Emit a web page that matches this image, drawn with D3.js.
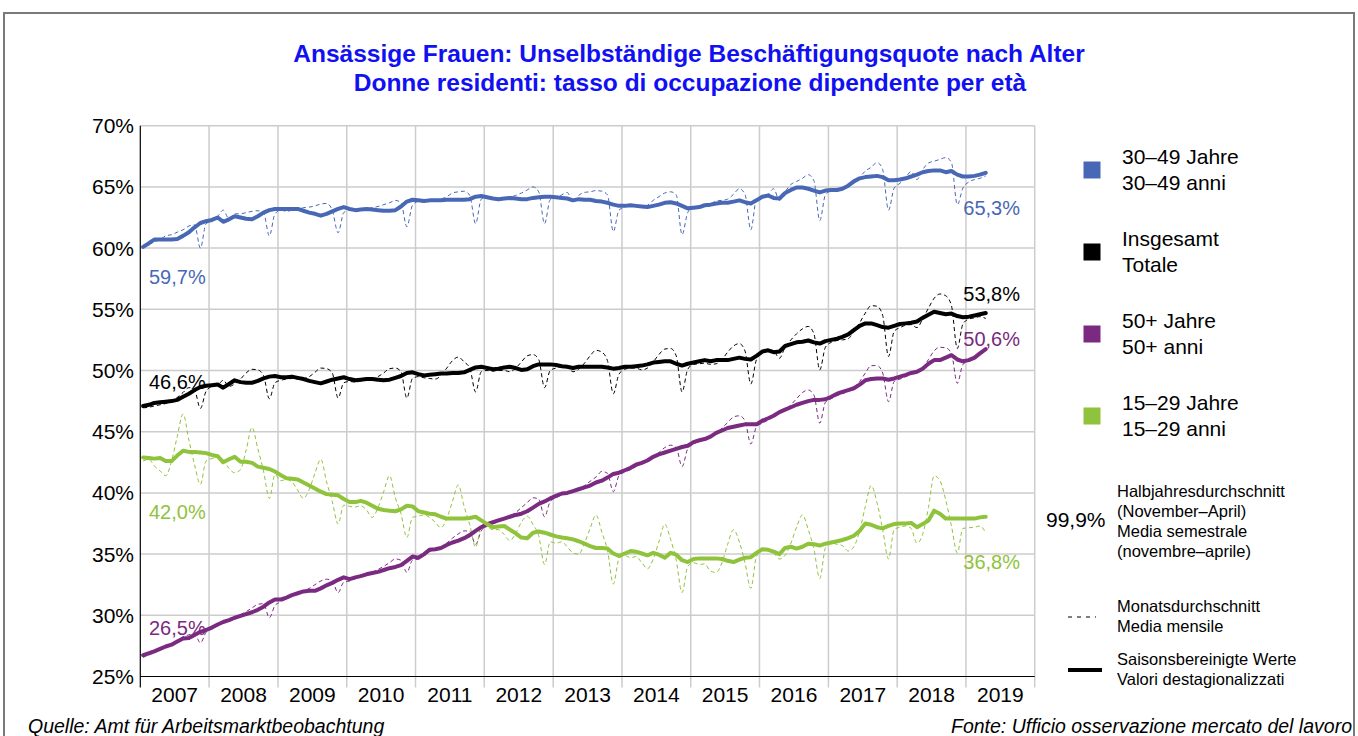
<!DOCTYPE html>
<html>
<head>
<meta charset="utf-8">
<script src="https://cdn.jsdelivr.net/npm/d3@7"></script>
<style>
  body { margin: 0; background: #fff; }
  svg { font-family: "Liberation Sans", Arial, sans-serif; }
  .titel { font-weight: bold; fill: #1010f2; font-size: 24.5px; }
  .achse text { font-size: 21px; fill: #000; }
  .leg { font-size: 21px; fill: #000; }
  .leg-klein { font-size: 16.5px; fill: #000; }
  .quelle { font-size: 19.5px; font-style: italic; fill: #000; }
</style>
</head>
<body>
<svg id="grafik"></svg>
<script>
// Monatswerte ab Januar 2007 (bis April 2019)
const startJahr = 2007;
const jahre = d3.range(2007, 2020);
const yTicks = [25, 30, 35, 40, 45, 50, 55, 60, 65, 70];

// 30-49 Jahre
const blauSaison = [
  60.1,60.4,60.7,60.7,60.7,60.7,60.75,61.0,61.3,61.7,62.05,62.2,
  62.3,62.5,62.15,62.35,62.6,62.5,62.4,62.35,62.6,62.9,63.1,63.2,
  63.2,63.2,63.2,63.2,63.05,62.9,62.8,62.65,62.8,63.0,63.2,63.35,
  63.2,63.1,63.15,63.2,63.15,63.1,63.05,63.05,63.1,63.4,63.8,63.95,
  63.9,63.85,63.9,63.9,63.9,63.95,63.95,63.95,63.95,64.0,64.2,64.25,
  64.15,64.05,64.0,64.05,64.1,64.05,64.0,64.0,64.1,64.15,64.2,64.2,
  64.15,64.1,64.05,63.9,64.0,63.95,63.95,63.85,63.8,63.7,63.55,63.45,
  63.45,63.5,63.45,63.4,63.35,63.45,63.55,63.7,63.75,63.65,63.45,63.25,
  63.3,63.35,63.5,63.55,63.65,63.7,63.7,63.8,63.9,63.75,63.65,63.9,
  64.2,64.3,64.1,64.05,64.5,64.75,64.95,64.95,64.85,64.7,64.55,64.7,
  64.75,64.75,64.85,65.1,65.45,65.7,65.8,65.85,65.9,65.8,65.55,65.55,
  65.6,65.7,65.85,66.0,66.2,66.3,66.35,66.35,66.2,66.3,66.0,65.85,
  65.85,65.9,66.0,66.15
];
const blauMonat = [
  60.0,60.3,60.5,60.7,61.0,61.1,61.3,61.5,61.8,61.9,60.0,62.0,
  62.2,62.6,63.1,62.4,62.8,62.8,62.9,63.0,63.05,62.9,61.0,62.8,
  63.1,63.0,63.1,63.2,63.3,63.35,63.45,63.6,63.65,63.1,61.25,62.9,
  63.1,63.0,63.1,63.2,63.3,63.4,63.55,63.7,63.9,63.7,61.75,63.5,
  63.8,63.75,63.8,63.9,64.0,64.2,64.5,64.6,64.65,64.3,62.0,64.0,
  64.2,64.0,63.95,64.0,64.15,64.3,64.5,64.75,65.0,64.6,62.0,63.95,
  64.1,64.35,64.55,63.75,64.3,64.55,64.6,64.7,64.65,64.35,61.35,63.1,
  63.35,63.45,63.4,63.35,63.5,63.9,64.2,64.5,64.6,64.35,61.1,62.9,
  63.4,63.35,63.45,63.6,63.85,63.9,64.0,64.4,64.85,64.4,61.5,64.0,
  64.2,64.4,64.85,63.9,64.6,65.2,65.45,65.7,66.0,65.5,62.25,64.35,
  64.7,64.85,64.9,65.0,65.3,65.8,66.3,66.6,67.0,66.4,63.1,64.9,
  65.3,65.8,66.25,65.6,66.4,66.95,67.1,67.25,67.4,67.0,63.55,64.9,
  65.4,65.6,65.7,65.9
];

// Insgesamt
const schwarzSaison = [
  47.1,47.2,47.35,47.4,47.45,47.5,47.6,47.85,48.1,48.4,48.65,48.75,
  48.8,48.85,48.6,48.9,49.2,49.05,49.0,49.0,49.15,49.35,49.5,49.55,
  49.45,49.45,49.5,49.4,49.3,49.15,49.05,48.95,49.1,49.25,49.35,49.45,
  49.3,49.2,49.25,49.3,49.3,49.25,49.2,49.25,49.4,49.55,49.8,49.85,
  49.7,49.6,49.65,49.7,49.75,49.75,49.8,49.8,49.85,50.05,50.25,50.3,
  50.2,50.1,50.15,50.25,50.3,50.2,50.05,50.1,50.35,50.5,50.5,50.5,
  50.45,50.35,50.3,50.2,50.3,50.3,50.3,50.3,50.3,50.25,50.15,50.2,
  50.3,50.3,50.35,50.4,50.5,50.65,50.7,50.75,50.75,50.55,50.4,50.55,
  50.65,50.75,50.85,50.75,50.85,50.85,50.85,50.95,51.05,50.95,50.9,51.2,
  51.55,51.65,51.5,51.55,52.0,52.15,52.3,52.35,52.45,52.3,52.2,52.4,
  52.5,52.6,52.75,52.95,53.3,53.65,53.85,53.85,53.7,53.55,53.5,53.65,
  53.8,53.85,53.9,54.0,54.3,54.55,54.8,54.7,54.6,54.65,54.45,54.35,
  54.4,54.5,54.6,54.7
];
const schwarzMonat = [
  46.95,47.0,47.1,47.2,47.3,47.5,47.8,48.2,48.6,48.4,46.9,48.3,
  48.7,48.8,49.2,48.7,48.9,49.3,49.8,50.1,50.05,49.6,47.7,49.0,
  49.2,49.3,49.35,49.3,49.35,49.5,49.85,50.2,50.15,49.8,47.75,49.0,
  49.1,49.05,49.15,49.2,49.3,49.5,49.8,50.15,50.2,49.9,47.75,49.35,
  49.5,49.4,49.35,49.3,49.6,50.2,50.8,51.1,50.7,50.2,48.25,49.9,
  50.0,49.95,50.0,50.0,49.9,50.2,50.7,51.2,51.3,50.9,48.6,50.0,
  50.2,50.3,50.25,49.9,50.1,50.6,51.2,51.65,51.5,50.8,48.1,49.7,
  50.1,50.2,50.2,50.05,50.2,50.7,51.3,51.75,51.8,51.2,48.25,50.1,
  50.5,50.55,50.6,50.5,50.55,50.9,51.5,52.0,52.2,51.6,48.9,50.9,
  51.5,51.7,51.6,51.0,51.9,52.5,53.0,53.4,53.6,53.0,50.05,51.9,
  52.3,52.45,52.5,52.6,53.2,53.9,54.7,55.3,55.25,54.5,51.15,53.2,
  53.5,53.7,53.75,53.5,54.2,55.1,55.9,56.25,56.1,55.3,51.8,53.8,
  54.2,54.3,54.4,54.25
];

// 50+ Jahre
const violettSaison = [
  26.75,26.9,27.05,27.25,27.45,27.6,27.85,28.1,28.15,28.4,28.65,28.8,
  29.0,29.25,29.45,29.6,29.8,29.95,30.1,30.25,30.45,30.7,31.05,31.3,
  31.3,31.45,31.65,31.8,31.95,32.0,32.0,32.2,32.45,32.65,32.9,33.1,
  32.95,33.1,33.2,33.35,33.45,33.55,33.7,33.85,33.95,34.1,34.45,34.8,
  34.7,35.0,35.35,35.4,35.5,35.75,35.95,36.1,36.3,36.55,36.9,37.2,
  37.45,37.6,37.75,37.9,38.05,38.2,38.3,38.5,38.8,39.1,39.3,39.55,
  39.75,39.95,40.0,40.15,40.3,40.45,40.6,40.85,41.0,41.25,41.55,41.65,
  41.85,42.05,42.3,42.45,42.65,42.95,43.15,43.3,43.45,43.6,43.75,43.85,
  44.15,44.3,44.4,44.6,44.9,45.1,45.3,45.4,45.5,45.6,45.6,45.6,
  45.9,46.1,46.3,46.6,46.8,47.0,47.2,47.35,47.5,47.6,47.6,47.65,
  47.85,48.1,48.25,48.4,48.55,48.85,49.2,49.3,49.35,49.35,49.25,49.35,
  49.5,49.65,49.8,49.9,50.15,50.55,50.85,50.85,51.05,51.25,50.9,50.75,
  50.85,51.05,51.4,51.75
];
const violettMonat = [
  26.55,26.8,27.0,27.2,27.4,27.65,27.9,28.25,28.4,28.5,27.75,28.6,
  28.9,29.15,29.4,29.55,29.8,30.05,30.3,30.6,30.9,30.95,29.8,30.8,
  31.1,31.35,31.55,31.75,31.95,32.2,32.5,32.8,32.95,32.8,31.85,32.7,
  32.8,33.0,33.15,33.3,33.5,33.75,34.0,34.3,34.6,34.5,33.5,34.5,
  34.6,34.9,35.2,35.35,35.55,35.9,36.3,36.65,36.9,36.85,35.8,36.9,
  37.3,37.5,37.65,37.85,38.1,38.4,38.8,39.2,39.6,39.5,38.05,39.3,
  39.6,39.85,39.95,40.1,40.3,40.6,40.95,41.3,41.75,41.6,40.1,41.4,
  41.7,41.9,42.15,42.4,42.65,42.95,43.3,43.7,43.9,43.7,42.15,43.6,
  44.0,44.2,44.35,44.6,44.9,45.3,45.75,46.2,46.3,45.9,44.0,45.4,
  45.7,45.95,46.2,46.5,46.8,47.2,47.7,48.2,48.4,48.0,45.7,47.4,
  47.7,47.95,48.1,48.3,48.6,49.1,49.8,50.4,50.4,49.8,47.45,49.1,
  49.3,49.5,49.7,49.8,50.2,50.9,51.6,51.9,51.85,51.4,48.95,50.5,
  50.75,51.0,51.3,51.55
];

// 15-29 Jahre
const gruenSaison = [
  42.9,42.85,42.8,42.85,42.6,42.6,43.05,43.45,43.35,43.35,43.3,43.25,
  43.1,43.0,42.5,42.75,42.95,42.55,42.55,42.45,42.15,42.05,41.95,41.75,
  41.45,41.2,41.15,41.1,40.85,40.6,40.35,40.1,39.9,39.85,39.8,39.5,
  39.25,39.25,39.35,39.2,38.95,38.7,38.6,38.55,38.5,38.65,38.95,38.9,
  38.5,38.4,38.3,38.25,38.05,37.9,37.9,37.9,37.9,37.95,38.05,37.75,
  37.45,37.2,37.25,37.3,37.0,36.7,36.35,36.3,36.75,36.85,36.75,36.6,
  36.45,36.35,36.3,36.2,36.05,35.85,35.65,35.5,35.5,35.45,35.05,34.85,
  35.05,35.25,35.2,35.05,34.9,35.1,34.95,34.7,35.1,34.95,34.5,34.35,
  34.6,34.65,34.65,34.65,34.65,34.6,34.45,34.35,34.55,34.7,34.75,35.1,
  35.4,35.35,35.2,35.0,35.5,35.6,35.45,35.6,35.85,35.8,35.7,35.85,
  35.95,36.05,36.15,36.3,36.5,36.9,37.5,37.4,37.2,37.1,37.3,37.45,
  37.5,37.5,37.55,37.2,37.45,37.75,38.55,38.3,37.9,37.9,37.9,37.9,
  37.9,37.9,38.0,38.05
];
const gruenMonat = [
  42.6,42.75,42.2,41.8,41.4,42.6,44.6,46.45,44.3,42.3,40.7,42.6,
  42.8,42.9,42.7,42.0,41.65,41.9,43.5,45.35,43.6,41.8,39.55,41.5,
  41.0,41.1,40.9,40.2,39.55,40.3,41.6,42.75,40.9,39.3,37.45,39.0,
  38.9,38.85,38.95,38.6,38.0,38.8,40.1,41.4,39.6,38.3,36.35,38.0,
  38.1,38.2,38.0,37.6,37.15,37.9,39.3,40.65,38.9,37.4,35.55,37.2,
  37.2,37.0,37.0,36.6,36.1,36.7,37.6,38.1,37.4,36.5,34.15,36.0,
  35.9,36.0,35.6,35.1,35.0,35.9,37.1,38.2,36.8,35.3,32.55,34.6,
  34.9,34.7,34.8,34.3,33.8,34.6,36.0,37.45,36.2,34.5,31.85,34.0,
  34.3,34.15,34.2,33.6,33.5,34.3,35.8,37.0,36.0,34.3,32.2,34.8,
  35.3,35.4,35.1,34.6,34.9,35.9,37.2,38.2,37.0,35.4,33.0,35.5,
  35.9,35.8,35.7,35.25,35.6,36.9,38.9,40.6,39.2,37.0,34.6,37.0,
  37.2,37.3,37.1,35.9,36.6,38.8,41.4,41.0,39.4,37.3,35.1,37.1,
  37.15,37.2,37.3,36.75
];

const serien = [
  { name: ['30\u201349 Jahre', '30\u201349 anni'], farbe: '#4868b6', saison: blauSaison, monat: blauMonat, anfang: '59,7%', ende: '65,3%' },
  { name: ['Insgesamt', 'Totale'], farbe: '#000000', saison: schwarzSaison, monat: schwarzMonat, anfang: '46,6%', ende: '53,8%' },
  { name: ['50+ Jahre', '50+ anni'], farbe: '#7a2a80', saison: violettSaison, monat: violettMonat, anfang: '26,5%', ende: '50,6%' },
  { name: ['15\u201329 Jahre', '15\u201329 anni'], farbe: '#90c33c', saison: gruenSaison, monat: gruenMonat, anfang: '42,0%', ende: '36,8%' }
];

const breite = 1358, hoehe = 736;
const svg = d3.select('#grafik').attr('width', breite).attr('height', hoehe);

// Rahmen
svg.append('rect')
    .attr('x', 4).attr('y', 13)
    .attr('width', 1350).attr('height', 760)
    .attr('fill', 'none').attr('stroke', '#7a7a7a').attr('stroke-width', 2);

// Titel
svg.append('text').attr('class', 'titel').attr('x', 689).attr('y', 62)
    .attr('text-anchor', 'middle').text('Ansässige Frauen: Unselbständige Beschäftigungsquote nach Alter');
svg.append('text').attr('class', 'titel').attr('x', 690).attr('y', 91)
    .attr('text-anchor', 'middle').text('Donne residenti: tasso di occupazione dipendente per età');

const links = 140.3, rechts = 1034.7, oben = 125.7, unten = 676.5;

const x = d3.scaleTime()
    .domain([new Date(startJahr, 0, 1), new Date(2020, 0, 1)])
    .range([links, rechts]);
const y = d3.scaleLinear().domain([25, 70]).range([unten, oben]);

const monatsX = i => x(new Date(startJahr, i, 16));

// Gitter
const gitter = svg.append('g');
gitter.selectAll('.hl').data(yTicks.slice(1)).enter().append('line')
    .attr('x1', links).attr('x2', rechts)
    .attr('y1', d => y(d)).attr('y2', d => y(d))
    .attr('stroke', '#cccccc').attr('stroke-width', 1.5);
gitter.selectAll('.vl').data(jahre.slice(1).concat([2020])).enter().append('line')
    .attr('x1', d => x(new Date(d, 0, 1))).attr('x2', d => x(new Date(d, 0, 1)))
    .attr('y1', oben).attr('y2', unten + 11)
    .attr('stroke', '#cccccc').attr('stroke-width', 1.5);

// Achsen
svg.append('line').attr('x1', links).attr('x2', links).attr('y1', oben).attr('y2', unten + 11)
    .attr('stroke', '#000').attr('stroke-width', 1.2);
svg.append('line').attr('x1', links).attr('x2', rechts).attr('y1', unten).attr('y2', unten)
    .attr('stroke', '#000').attr('stroke-width', 1.2);

const yAchse = svg.append('g').attr('class', 'achse');
yAchse.selectAll('text').data(yTicks).enter().append('text')
    .attr('x', 134).attr('y', d => y(d) + 7.5)
    .attr('text-anchor', 'end').text(d => d + '%');

const xAchse = svg.append('g').attr('class', 'achse');
xAchse.selectAll('text').data(jahre).enter().append('text')
    .attr('x', d => (x(new Date(d, 0, 1)) + x(new Date(d + 1, 0, 1))) / 2)
    .attr('y', 702)
    .attr('text-anchor', 'middle').text(d => d);

// Linien
const linieMonat = d3.line().x((d, i) => monatsX(i)).y(d => y(d)).curve(d3.curveMonotoneX);
const linieSaison = d3.line().x((d, i) => monatsX(i)).y(d => y(d));

const plot = svg.append('g');
serien.forEach(s => {
  plot.append('path').datum(s.monat)
      .attr('d', linieMonat)
      .attr('fill', 'none').attr('stroke', s.farbe).attr('stroke-width', 1)
      .attr('stroke-dasharray', '4,3');
});
serien.forEach(s => {
  plot.append('path').datum(s.saison)
      .attr('d', linieSaison)
      .attr('fill', 'none').attr('stroke', s.farbe).attr('stroke-width', 4)
      .attr('stroke-linejoin', 'round').attr('stroke-linecap', 'round');
});

// Halbjahreswerte am Anfang und Ende
const anfangY = [284, 389, 635, 518.5];
const endeY = [215, 300.5, 345.5, 569];
serien.forEach((s, k) => {
  svg.append('text').attr('x', 149).attr('y', anfangY[k])
      .attr('font-size', 20).attr('fill', s.farbe).text(s.anfang);
  svg.append('text').attr('x', 1020).attr('y', endeY[k])
      .attr('font-size', 20).attr('fill', s.farbe).attr('text-anchor', 'end').text(s.ende);
});

// Legende
const legY = [170, 252, 334, 416];
serien.forEach((s, k) => {
  svg.append('rect').attr('x', 1083.5).attr('y', legY[k] - 8.5)
      .attr('width', 17).attr('height', 17).attr('fill', s.farbe);
  svg.append('text').attr('class', 'leg').attr('x', 1122).attr('y', legY[k] - 6).text(s.name[0]);
  svg.append('text').attr('class', 'leg').attr('x', 1122).attr('y', legY[k] + 20).text(s.name[1]);
});

svg.append('text').attr('class', 'leg').attr('x', 1046).attr('y', 527).text('99,9%');
['Halbjahresdurchschnitt', '(November\u2013April)', 'Media semestrale', '(novembre\u2013aprile)'].forEach((t, k) => {
  svg.append('text').attr('class', 'leg-klein').attr('x', 1117).attr('y', 497 + k * 20).text(t);
});
svg.append('line').attr('x1', 1068).attr('x2', 1096).attr('y1', 617).attr('y2', 617)
    .attr('stroke', '#000').attr('stroke-width', 1).attr('stroke-dasharray', '4,5');
svg.append('text').attr('class', 'leg-klein').attr('x', 1117).attr('y', 612).text('Monatsdurchschnitt');
svg.append('text').attr('class', 'leg-klein').attr('x', 1117).attr('y', 632).text('Media mensile');
svg.append('line').attr('x1', 1068).attr('x2', 1102).attr('y1', 670).attr('y2', 670)
    .attr('stroke', '#000').attr('stroke-width', 4);
svg.append('text').attr('class', 'leg-klein').attr('x', 1117).attr('y', 665).text('Saisonsbereinigte Werte');
svg.append('text').attr('class', 'leg-klein').attr('x', 1117).attr('y', 685).text('Valori destagionalizzati');

// Quelle
svg.append('text').attr('class', 'quelle').attr('x', 28).attr('y', 733).text('Quelle: Amt für Arbeitsmarktbeobachtung');
svg.append('text').attr('class', 'quelle').attr('x', 1352).attr('y', 733).attr('text-anchor', 'end')
    .text('Fonte: Ufficio osservazione mercato del lavoro');
</script>
</body>
</html>
